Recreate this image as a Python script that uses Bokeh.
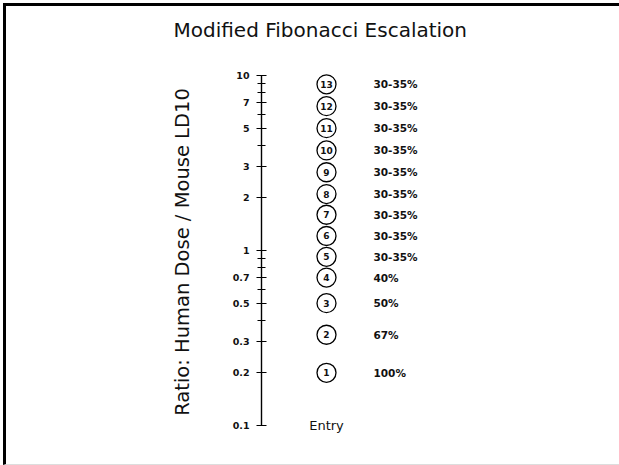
from bokeh.plotting import figure
from bokeh.models import Range1d, FixedTicker, NumeralTickFormatter, ColumnDataSource, InlineStyleSheet
from bokeh.core.properties import value
from bokeh.embed import file_html
from bokeh.resources import INLINE

# ---- data ----
TITLE = "Modified Fibonacci Escalation"
Y_LABEL = "Ratio: Human Dose / Mouse LD10"
entries = ["1", "2", "3", "4", "5", "6", "7", "8", "9", "10", "11", "12", "13"]
dose_ratio = [0.2, 0.33, 0.5, 0.7, 0.92, 1.21, 1.6, 2.1, 2.8, 3.73, 5.0, 6.68, 8.9]
increments = ["100%", "67%", "50%", "40%", "30-35%", "30-35%", "30-35%", "30-35%",
              "30-35%", "30-35%", "30-35%", "30-35%", "30-35%"]
major_ticks = [0.1, 0.2, 0.3, 0.5, 0.7, 1, 2, 3, 5, 7, 10]
minor_ticks = [0.4, 0.6, 0.8, 0.9, 4, 6, 8, 9]
entry_label = "Entry"
entry_level = 0.1

# ---- layout constants (pixels / view range) ----
W, H = 603, 449
LEFT, RIGHT, TOP, BOTTOM = 261, 6, 54, 0
FRAME_W = W - LEFT - RIGHT
Y_VIEW = (0.0729, 13.18)
CIRCLE_X = 65
PCT_X = 112

FONT = "DejaVu Sans"

p = figure(width=W, height=H, y_axis_type="log",
           x_range=Range1d(0, FRAME_W), y_range=Range1d(*Y_VIEW),
           output_backend="svg", toolbar_location=None,
           min_border_left=LEFT, min_border_right=RIGHT,
           min_border_top=TOP, min_border_bottom=BOTTOM,
           x_axis_location=None, title=TITLE)

# slide frame: black rules along the top and left, faint rule at the bottom
p.stylesheets = [InlineStyleSheet(css="""
:host { overflow: visible; }
:host::after {
  content: "";
  position: absolute;
  left: 3px; top: 3px; right: -16px; bottom: -16px;
  border-top: 3px solid black;
  border-left: 3px solid black;
  border-bottom: 1px solid #dddddd;
  pointer-events: none;
  z-index: 100;
}
""")]

p.outline_line_color = None
p.grid.visible = False
p.background_fill_color = "white"
p.border_fill_color = "white"

p.title.align = "left"
p.title.offset = -88
p.title.standoff = 26
p.title.text_font = FONT
p.title.text_font_size = "20px"
p.title.text_font_style = "normal"
p.title.text_color = "#111111"

ax = p.yaxis[0]
ax.ticker = FixedTicker(ticks=major_ticks, minor_ticks=minor_ticks)
ax.formatter = NumeralTickFormatter(format="0.[0]")
ax.bounds = (0.1, 10)
ax.axis_line_color = "black"
ax.axis_line_width = 1.4
ax.major_tick_in = 5
ax.major_tick_out = 5
ax.minor_tick_in = 4
ax.minor_tick_out = 4
ax.major_tick_line_color = "black"
ax.minor_tick_line_color = "black"
ax.major_tick_line_width = 1.2
ax.minor_tick_line_width = 1.2
ax.major_label_standoff = 7
ax.major_label_text_font = FONT
ax.major_label_text_font_size = "9.5px"
ax.major_label_text_font_style = "bold"
ax.major_label_text_color = "#111111"
ax.axis_label = Y_LABEL
ax.axis_label_text_font = FONT
ax.axis_label_text_font_size = "19.5px"
ax.axis_label_text_font_style = "normal"
ax.axis_label_text_color = "#111111"
ax.axis_label_standoff = 36

src = ColumnDataSource(dict(
    x=[CIRCLE_X] * len(entries),
    px=[PCT_X] * len(entries),
    y=dose_ratio,
    n=entries,
    pct=increments,
))

p.scatter("x", "y", source=src, marker="circle", size=19,
          fill_color="white", line_color="black", line_width=1.3)
p.text("x", "y", text="n", source=src, text_align="center", text_baseline="middle",
       text_font=value(FONT), text_font_size="9px", text_font_style="bold",
       text_color="#111111")
p.text("px", "y", text="pct", source=src, text_align="left", text_baseline="middle",
       text_font=value(FONT), text_font_size="10.5px", text_font_style="bold",
       text_color="#111111")
p.text(x=[CIRCLE_X], y=[entry_level], text=[entry_label], text_align="center",
       text_baseline="middle", text_font=value(FONT), text_font_size="13px",
       text_color="#111111")

open("out.html", "w").write(file_html(p, INLINE))
